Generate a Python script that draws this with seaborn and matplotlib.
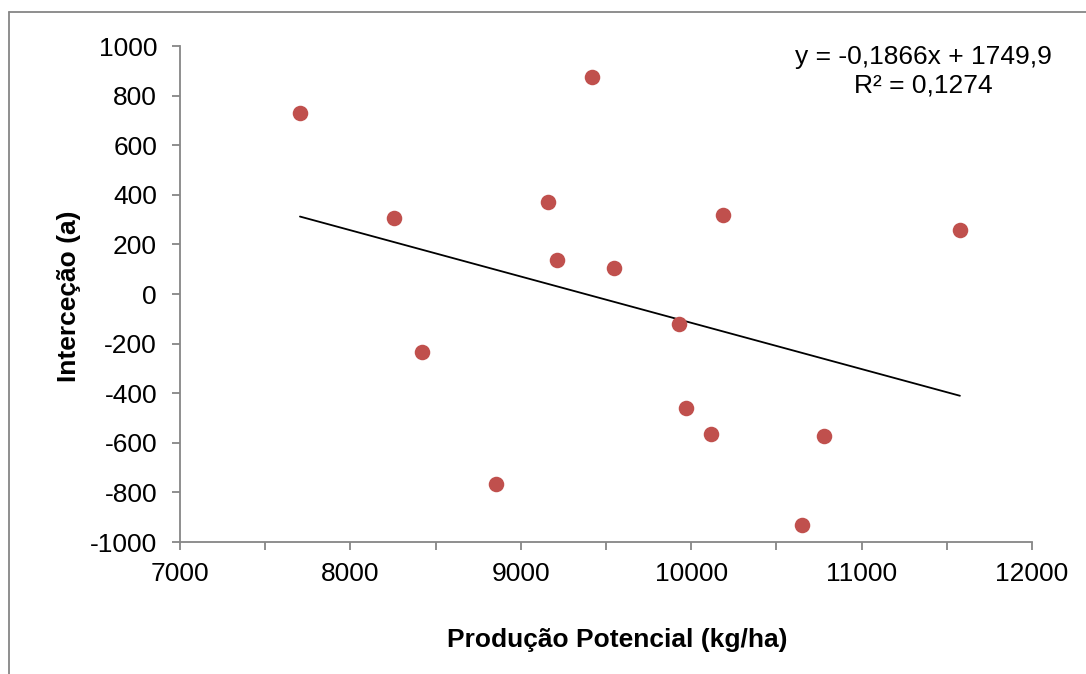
import matplotlib
matplotlib.use("Agg")
import matplotlib.pyplot as plt
import matplotlib.lines as mlines
import seaborn as sns
import numpy as np
import pandas as pd

# Data
producao = [7704, 8256, 8420, 8854, 9160, 9212, 9418, 9547, 9928, 9969, 10116, 10187, 10650, 10779, 11577]
intercecao = [730, 306, -234, -766, 371, 137, 875, 105, -121, -460, -565, 319, -931, -573, 258]
slope = -0.1866
intercept = 1749.9
eq_text = "y = -0,1866x + 1749,9"
r2_text = "R² = 0,1274"
x_ticks = [7000, 8000, 9000, 10000, 11000, 12000]
y_ticks = [-1000, -800, -600, -400, -200, 0, 200, 400, 600, 800, 1000]

sns.set_theme(style="white")
plt.rcParams['font.family'] = ['Liberation Sans', 'DejaVu Sans']
plt.rcParams['axes.unicode_minus'] = False

FS = 19

df = pd.DataFrame({"x": producao, "y": intercecao})

fig = plt.figure(figsize=(10.86, 6.74), dpi=100)
ax = fig.add_axes([180/1086, 1 - 542/674, (1032-180)/1086, (542-46)/674])

sns.scatterplot(data=df, x="x", y="y", ax=ax, color="#C0504D", s=125,
                linewidth=0, zorder=3, legend=False)

xl = np.array([min(producao), max(producao)])
sns.lineplot(x=xl, y=slope * xl + intercept, ax=ax, color="black", linewidth=1.3, zorder=2)

ax.set_xlim(7000, 12000)
ax.set_ylim(-1000, 1000)
ax.set_xticks(x_ticks)
ax.set_xticks(np.arange(7500, 12000, 1000), minor=True)
ax.set_yticks(y_ticks)
ax.set_xticklabels([str(t) for t in x_ticks])
ax.set_yticklabels([str(t) for t in y_ticks])

gray = "#868686"
for s in ["top", "right"]:
    ax.spines[s].set_visible(False)
for s in ["left", "bottom"]:
    ax.spines[s].set_color(gray)
    ax.spines[s].set_linewidth(1.3)

ax.tick_params(axis="both", which="both", direction="out", color=gray, width=1.3,
               labelsize=FS, labelcolor="black")
ax.tick_params(axis="x", which="major", length=5.5, bottom=True, pad=9)
ax.tick_params(axis="x", which="minor", length=5.5, bottom=True)
ax.tick_params(axis="y", which="major", length=5.5, left=True, pad=11)

ax.set_xlabel("Produção Potencial (kg/ha)", fontsize=FS, fontweight="bold", color="black")
ax.set_ylabel("Interceção (a)", fontsize=FS, fontweight="bold", color="black")
ax.xaxis.set_label_coords((617-180)/852, -(628-542)/496)
ax.yaxis.set_label_coords(-(180-81)/852, (542-296)/496)

ax.text((923-180)/852, (542-57)/496, eq_text, transform=ax.transAxes,
        ha="center", va="center", fontsize=FS, color="black")
ax.text((923-180)/852, (542-86)/496, r2_text, transform=ax.transAxes,
        ha="center", va="center", fontsize=FS, color="black")

# outer chart border (top and left visible)
fig.add_artist(mlines.Line2D([9/1086, 9/1086], [0, 1 - 12/674], color=gray, linewidth=1.3,
                             transform=fig.transFigure))
fig.add_artist(mlines.Line2D([9/1086, 1], [1 - 12/674, 1 - 12/674], color=gray, linewidth=1.3,
                             transform=fig.transFigure))

fig.savefig("out.png", dpi=100)
